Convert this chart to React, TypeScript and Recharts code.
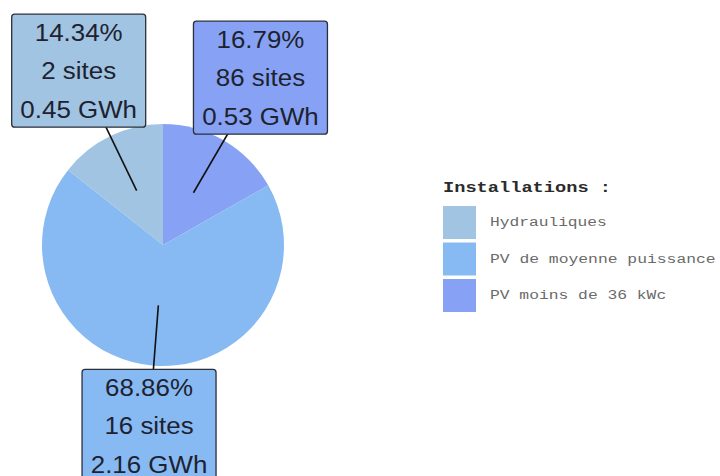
import React from "react";
import { PieChart, Pie, Cell } from "recharts";

// Data (pie order: clockwise from 12 o'clock)
const categories = ["PV moins de 36 kWc", "PV de moyenne puissance", "Hydrauliques"];
const shares = [16.79, 68.86, 14.34];
const sites = [86, 16, 2];
const energyGWh = [0.53, 2.16, 0.45];
const colors = ["#87a2f4", "#87baf2", "#a0c4e1"];

// Legend order
const legendTitle = "Installations :";
const legendOrder = ["Hydrauliques", "PV de moyenne puissance", "PV moins de 36 kWc"];

const data = categories.map((name, i) => ({
  name,
  value: shares[i],
  sites: sites[i],
  energy: energyGWh[i],
  color: colors[i],
}));

const RAD = Math.PI / 180;
const BOX_W = 134;
const BOX_H = 113;

const renderLabel = (props: any) => {
  const { cx, cy, midAngle, outerRadius, payload } = props;
  const p = payload && payload.payload ? payload.payload : payload;
  const factor = Math.sin(midAngle * RAD) < 0 ? 1.5 : 1.6;
  const ix = cx + outerRadius * 0.5 * Math.cos(midAngle * RAD);
  const iy = cy - outerRadius * 0.5 * Math.sin(midAngle * RAD);
  const bx = cx + outerRadius * factor * Math.cos(midAngle * RAD);
  const by = cy - outerRadius * factor * Math.sin(midAngle * RAD);
  const lines = [
    `${p.value.toFixed(2)}%`,
    `${p.sites} sites`,
    `${p.energy.toFixed(2)} GWh`,
  ];
  return (
    <g>
      <line x1={ix} y1={iy} x2={bx} y2={by} stroke="#111" strokeWidth={1.6} />
      <rect
        x={bx - BOX_W / 2}
        y={by - BOX_H / 2}
        width={BOX_W}
        height={BOX_H}
        rx={3}
        ry={3}
        fill={p.color}
        stroke="#2a2f3a"
        strokeWidth={1.3}
      />
      {lines.map((t, k) => (
        <text
          key={k}
          x={0}
          y={0}
          transform={`translate(${bx}, ${by + 8.5 + (k - 1) * 38.5}) scale(1.08, 1)`}
          textAnchor="middle"
          fontFamily="'Liberation Sans', Arial, sans-serif"
          fontSize={24}
          fill="#1e2230"
        >
          {t}
        </text>
      ))}
    </g>
  );
};

export default function App() {
  const legendItems = legendOrder.map((name) => data.find((d) => d.name === name)!);
  return (
    <div style={{ position: "absolute", left: 0, top: 0, width: 720, height: 476, background: "#fff" }}>
      <PieChart width={720} height={476} margin={{ top: 0, right: 0, bottom: 0, left: 0 }}>
        <Pie
          data={data}
          dataKey="value"
          nameKey="name"
          cx={163}
          cy={245}
          outerRadius={121}
          startAngle={90}
          endAngle={-270}
          stroke="none"
          label={renderLabel}
          labelLine={false}
          isAnimationActive={false}
        >
          {data.map((d, i) => (
            <Cell key={i} fill={d.color} stroke="none" />
          ))}
        </Pie>
        <g>
          <text
            x={443}
            y={192}
            fontFamily="'Liberation Mono', 'Courier New', monospace"
            fontWeight="bold"
            fontSize={15}
            fill="#2b2b2b"
            textLength={168}
            lengthAdjust="spacingAndGlyphs"
          >
            {legendTitle}
          </text>
          {legendItems.map((d, i) => (
            <g key={d.name}>
              <rect x={443} y={206 + i * 36.5} width={33} height={33} fill={d.color} />
              <text
                x={490}
                y={226 + i * 36.5}
                fontFamily="'Liberation Mono', 'Courier New', monospace"
                fontSize={12}
                fill="#6a6a6a"
                textLength={d.name.length * 9.9 - 2}
                lengthAdjust="spacingAndGlyphs"
              >
                {d.name}
              </text>
            </g>
          ))}
        </g>
      </PieChart>
    </div>
  );
}
